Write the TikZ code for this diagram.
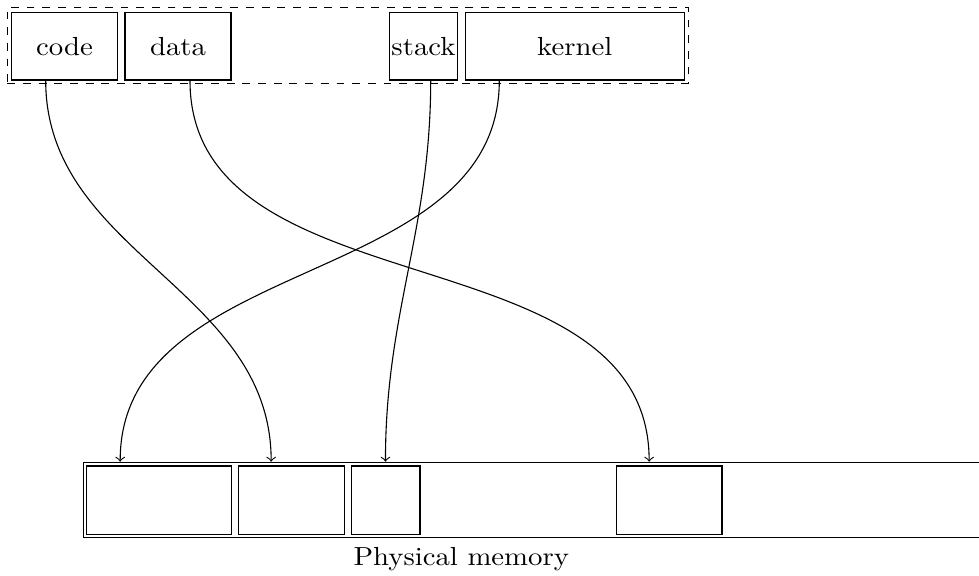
\documentclass[tikz,border=0pt]{standalone}
\usepackage{fontspec}
\setmainfont{lmroman10-regular.otf}[FakeStretch=1.1]
\begin{document}
\begin{tikzpicture}[x=0.3636pt,y=-0.3636pt,
  every node/.style={font=\fontsize{9.5}{11}\selectfont},
  seg/.style={draw,line width=0.4pt,inner sep=0pt,minimum height=24.62pt},
  frame/.style={draw,dashed,dash pattern=on 2.85pt off 2.85pt,line width=0.4pt,inner sep=0pt},
  box/.style={draw,line width=0.4pt,inner sep=0pt,minimum height=24.83pt},
  link/.style={->,line width=0.4pt,out=-90,in=90}]
\useasboundingbox (0,0) rectangle (979,576);
% virtual address space
\node[frame,minimum width=247.6pt,minimum height=27.63pt] (space) at (347.8,45.3) {};
\node[seg,minimum width=38.40pt] (code) at (64.5,46.15) {code};
\node[seg,minimum width=38.54pt] (data) at (178,46.15) {data};
\node[seg,minimum width=24.87pt] (stack) at (423.5,46.15) {stack};
\node[seg,minimum width=79.63pt] (kernel) at (574.8,46.15) {kernel};
% physical memory
\node[draw,line width=0.4pt,inner sep=0pt,minimum width=333.3pt,minimum height=27.42pt] (mem) at (541.65,500) {};
\node[box,minimum width=52.58pt] (b1) at (159,500.15) {};
\node[box,minimum width=38.54pt] (b2) at (291.3,500.15) {};
\node[box,minimum width=24.83pt] (b3) at (385.85,500.15) {};
\node[box,minimum width=38.29pt] (b4) at (669.35,500.15) {};
\node[inner sep=0pt,anchor=base] (label) at (461.3,565.7) {Physical memory};
% mappings
\draw[link] ([xshift=-6.84pt]code.south) to ([xshift=68.5pt]mem.north west);
\draw[link] ([xshift=4.36pt]data.south) to ([xshift=205.94pt]mem.north west);
\draw[link] ([xshift=2.62pt]stack.south) to ([xshift=110.06pt]mem.north west);
\draw[link] ([xshift=-27.45pt]kernel.south) to ([xshift=13.6pt]mem.north west);
\end{tikzpicture}
\end{document}
